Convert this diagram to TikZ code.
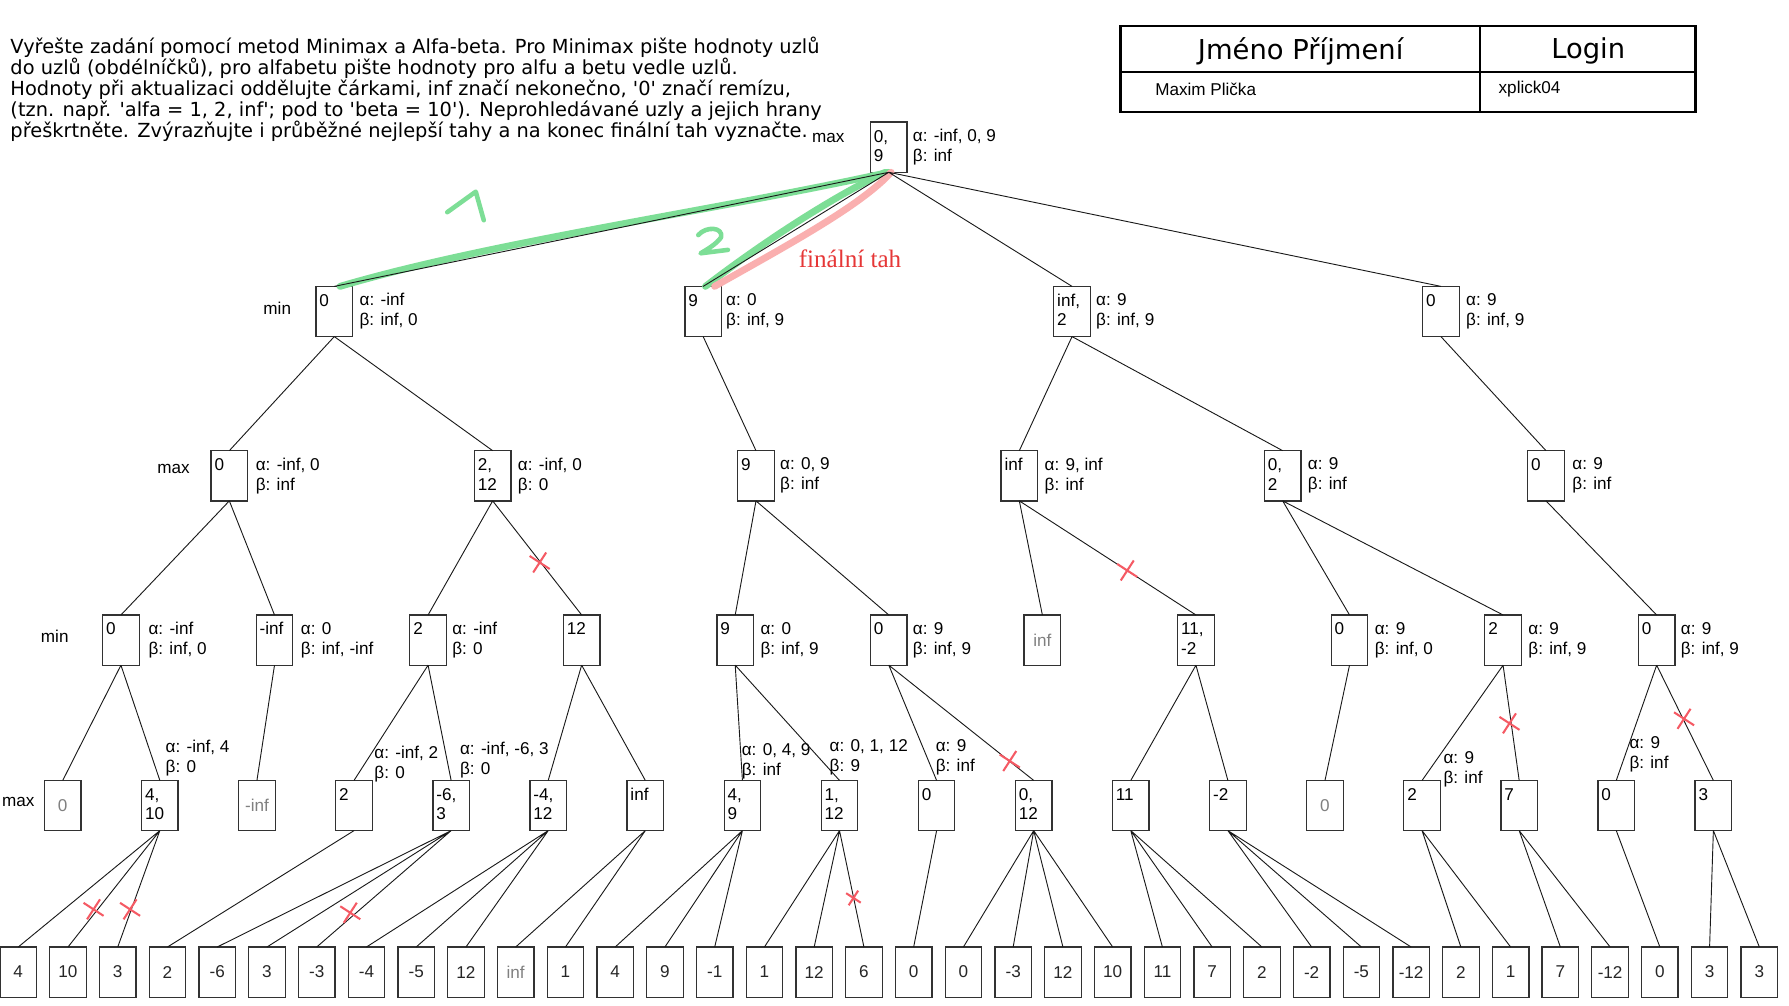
\documentclass[tikz,border=0pt]{standalone}
\usepackage{fontspec}
\setmainfont{Liberation Sans}
\newfontfamily\taskfont{DejaVu Sans}
\newfontfamily\headfont{DejaVu Sans}
\newfontfamily\tahfont{Liberation Serif}
\usetikzlibrary{positioning, shapes.misc}
\definecolor{boxline}{RGB}{50,50,50}
\definecolor{hlgreen}{RGB}{125,222,150}
\definecolor{hlpink}{RGB}{250,175,175}
\definecolor{tahred}{RGB}{230,55,55}
\definecolor{crossred}{RGB}{245,90,100}
\newcommand{\val}[1]{\parbox[c][37pt][t]{26pt}{\rule{0pt}{14pt}#1}}
\tikzset{
    cell/.style={
        rectangle,
        draw=boxline,
        line width=1.1pt,
        minimum width=32pt,
        minimum height=44pt,
        inner sep=3pt,
        outer sep=0pt,
        font=\fontsize{15}{17}\selectfont
    },
    dead/.style={cell, text=black!50},
    leaf/.style={cell, text=black!85},
    note/.style={
        align=left,
        inner sep=0pt,
        font=\fontsize{15}{17.5}\selectfont
    },
    lvl/.style={font=\fontsize{15}{17}\selectfont},
    edge/.style={draw=black!90, line width=0.8pt},
    hl/.style={draw=#1, line width=6pt, line cap=round},
    handmark/.style={draw=hlgreen, line width=4pt, line cap=round, line join=round},
    prune/.style={
        cross out,
        draw=crossred,
        line width=1.8pt,
        minimum size=13pt,
        inner sep=0pt,
        rotate=12
    }
}

\begin{document}
\begin{tikzpicture}[x=1pt, y=-1pt]
    \useasboundingbox (0,0) rectangle (1568,881);
    \fill[white] (0,0) rectangle (1568,881);

    % zadani
    \node[anchor=north west, align=left, inner sep=0pt,
          font=\taskfont\fontsize{17}{18.5}\selectfont] (task) at (9,32)
        {Vyřešte zadání pomocí metod Minimax a Alfa-beta. Pro Minimax pište hodnoty uzlů\\
         do uzlů (obdélníčků), pro alfabetu pište hodnoty pro alfu a betu vedle uzlů.\\
         Hodnoty při aktualizaci oddělujte čárkami, inf značí nekonečno, \textquotesingle 0\textquotesingle{} značí remízu,\\
         (tzn. např. \textquotesingle alfa = 1, 2, inf\textquotesingle; pod to \textquotesingle beta = 10\textquotesingle). Neprohledávané uzly a jejich hrany\\
         přeškrtněte. Zvýrazňujte i průběžné nejlepší tahy a na konec finální tah vyznačte.};

    % hlavicka
    \draw[line width=2.2pt] (982,23) rectangle (1486,98);
    \draw[line width=1.6pt] (982,63) -- (1486,63) (1297,23) -- (1297,98);
    \node[font=\headfont\fontsize{24}{26}\selectfont] (hname) at (1140,45) {Jméno Příjmení};
    \node[font=\headfont\fontsize{24}{26}\selectfont] (hlogin) at (1392,45) {Login};
    \node[lvl, anchor=west] (sname) at (1009,78) {Maxim Plička};
    \node[lvl, anchor=west] (slogin) at (1310,78) {xplick04};

    % urovne
    \node[lvl] (l0) at (726,121) {max};
    \node[lvl] (l1) at (243,270) {min};
    \node[lvl] (l2) at (152,411) {max};
    \node[lvl] (l3) at (48,558)  {min};
    \node[lvl] (l4) at (16,703)  {max};

    % koren
    \node[cell] (r) at (779,129) {\val{0,\\9}};

    % min
    \node[cell]                      (a1) at (293,273) {\val{0}};
    \node[cell, right=291.3pt of a1] (a2) {\val{9}};
    \node[cell, right=291.3pt of a2] (a3) {\val{inf,\\2}};
    \node[cell, right=291.3pt of a3] (a4) {\val{0}};

    % max
    \node[cell]                      (b1) at (201,417) {\val{0}};
    \node[cell, right=198.8pt of b1] (b2) {\val{2,\\12}};
    \node[cell, right=198.8pt of b2] (b3) {\val{9}};
    \node[cell, right=198.8pt of b3] (b4) {\val{inf}};
    \node[cell, right=198.8pt of b4] (b5) {\val{0,\\2}};
    \node[cell, right=198.8pt of b5] (b6) {\val{0}};

    % min
    \node[cell]                       (c1)  at (106,561) {\val{0}};
    \node[cell, right=102.6pt of c1]  (c2)  {\val{-inf}};
    \node[cell, right=102.6pt of c2]  (c3)  {\val{2}};
    \node[cell, right=102.6pt of c3]  (c4)  {\val{12}};
    \node[cell, right=102.6pt of c4]  (c5)  {\val{9}};
    \node[cell, right=102.6pt of c5]  (c6)  {\val{0}};
    \node[dead, right=102.6pt of c6]  (c7)  {inf};
    \node[cell, right=102.6pt of c7]  (c8)  {\val{11,\\-2}};
    \node[cell, right=102.6pt of c8]  (c9)  {\val{0}};
    \node[cell, right=102.6pt of c9]  (c10) {\val{2}};
    \node[cell, right=102.6pt of c10] (c11) {\val{0}};

    % max
    \node[dead]                      (d1)  at (55,706) {0};
    \node[cell, right=53.1pt of d1]  (d2)  {\val{4,\\10}};
    \node[dead, right=53.1pt of d2]  (d3)  {-inf};
    \node[cell, right=53.1pt of d3]  (d4)  {\val{2}};
    \node[cell, right=53.1pt of d4]  (d5)  {\val{-6,\\3}};
    \node[cell, right=53.1pt of d5]  (d6)  {\val{-4,\\12}};
    \node[cell, right=53.1pt of d6]  (d7)  {\val{inf}};
    \node[cell, right=53.1pt of d7]  (d8)  {\val{4,\\9}};
    \node[cell, right=53.1pt of d8]  (d9)  {\val{1,\\12}};
    \node[cell, right=53.1pt of d9]  (d10) {\val{0}};
    \node[cell, right=53.1pt of d10] (d11) {\val{0,\\12}};
    \node[cell, right=53.1pt of d11] (d12) {\val{11}};
    \node[cell, right=53.1pt of d12] (d13) {\val{-2}};
    \node[dead, right=53.1pt of d13] (d14) {0};
    \node[cell, right=53.1pt of d14] (d15) {\val{2}};
    \node[cell, right=53.1pt of d15] (d16) {\val{7}};
    \node[cell, right=53.1pt of d16] (d17) {\val{0}};
    \node[cell, right=53.1pt of d17] (d18) {\val{3}};

    % listy
    \node[leaf]                      (e1)  at (16,852) {4};
    \node[leaf, right=11.6pt of e1]  (e2)  {10};
    \node[leaf, right=11.6pt of e2]  (e3)  {3};
    \node[leaf, right=11.6pt of e3]  (e4)  {2};
    \node[leaf, right=11.6pt of e4]  (e5)  {-6};
    \node[leaf, right=11.6pt of e5]  (e6)  {3};
    \node[leaf, right=11.6pt of e6]  (e7)  {-3};
    \node[leaf, right=11.6pt of e7]  (e8)  {-4};
    \node[leaf, right=11.6pt of e8]  (e9)  {-5};
    \node[leaf, right=11.6pt of e9]  (e10) {12};
    \node[dead, right=11.6pt of e10] (e11) {inf};
    \node[leaf, right=11.6pt of e11] (e12) {1};
    \node[leaf, right=11.6pt of e12] (e13) {4};
    \node[leaf, right=11.6pt of e13] (e14) {9};
    \node[leaf, right=11.6pt of e14] (e15) {-1};
    \node[leaf, right=11.6pt of e15] (e16) {1};
    \node[leaf, right=11.6pt of e16] (e17) {12};
    \node[leaf, right=11.6pt of e17] (e18) {6};
    \node[leaf, right=11.6pt of e18] (e19) {0};
    \node[leaf, right=11.6pt of e19] (e20) {0};
    \node[leaf, right=11.6pt of e20] (e21) {-3};
    \node[leaf, right=11.6pt of e21] (e22) {12};
    \node[leaf, right=11.6pt of e22] (e23) {10};
    \node[leaf, right=11.6pt of e23] (e24) {11};
    \node[leaf, right=11.6pt of e24] (e25) {7};
    \node[leaf, right=11.6pt of e25] (e26) {2};
    \node[leaf, right=11.6pt of e26] (e27) {-2};
    \node[leaf, right=11.6pt of e27] (e28) {-5};
    \node[leaf, right=11.6pt of e28] (e29) {-12};
    \node[leaf, right=11.6pt of e29] (e30) {2};
    \node[leaf, right=11.6pt of e30] (e31) {1};
    \node[leaf, right=11.6pt of e31] (e32) {7};
    \node[leaf, right=11.6pt of e32] (e33) {-12};
    \node[leaf, right=11.6pt of e33] (e34) {0};
    \node[leaf, right=11.6pt of e34] (e35) {3};
    \node[leaf, right=11.6pt of e35] (e36) {3};

    % alfa a beta
    \node[note, right=5pt of r]   (r-ab)   {α: -inf, 0, 9\\β: inf};
    \node[note, right=6pt of a1]  (a1-ab)  {α: -inf\\β: inf, 0};
    \node[note, right=4pt of a2]  (a2-ab)  {α: 0\\β: inf, 9};
    \node[note, right=5pt of a3]  (a3-ab)  {α: 9\\β: inf, 9};
    \node[note, right=6pt of a4]  (a4-ab)  {α: 9\\β: inf, 9};
    \node[note, right=7pt of b1]  (b1-ab)  {α: -inf, 0\\β: inf};
    \node[note, right=6pt of b2]  (b2-ab)  {α: -inf, 0\\β: 0};
    \node[note, right=5pt of b3]  (b3-ab)  {α: 0, 9\\β: inf};
    \node[note, right=6pt of b4]  (b4-ab)  {α: 9, inf\\β: inf};
    \node[note, right=6pt of b5]  (b5-ab)  {α: 9\\β: inf};
    \node[note, right=7pt of b6]  (b6-ab)  {α: 9\\β: inf};
    \node[note, right=8pt of c1]  (c1-ab)  {α: -inf\\β: inf, 0};
    \node[note, right=7pt of c2]  (c2-ab)  {α: 0\\β: inf, -inf};
    \node[note, right=5pt of c3]  (c3-ab)  {α: -inf\\β: 0};
    \node[note, right=6pt of c5]  (c5-ab)  {α: 0\\β: inf, 9};
    \node[note, right=5pt of c6]  (c6-ab)  {α: 9\\β: inf, 9};
    \node[note, right=6pt of c9]  (c9-ab)  {α: 9\\β: inf, 0};
    \node[note, right=6pt of c10] (c10-ab) {α: 9\\β: inf, 9};
    \node[note, right=5pt of c11] (c11-ab) {α: 9\\β: inf, 9};
    \node[note, anchor=west] (d2-ab)  at (145,664)  {α: -inf, 4\\β: 0};
    \node[note, anchor=west] (d4-ab)  at (328,670)  {α: -inf, 2\\β: 0};
    \node[note, anchor=west] (d5-ab)  at (403,666)  {α: -inf, -6, 3\\β: 0};
    \node[note, anchor=west] (d8-ab)  at (650,667)  {α: 0, 4, 9\\β: inf};
    \node[note, anchor=west] (d9-ab)  at (727,664)  {α: 0, 1, 12\\β: 9};
    \node[note, anchor=west] (d10-ab) at (820,664)  {α: 9\\β: inf};
    \node[note, anchor=west] (d15-ab) at (1265,674) {α: 9\\β: inf};
    \node[note, anchor=west] (d17-ab) at (1428,661) {α: 9\\β: inf};

    % zvyrazneni tahu
    \draw[hl=hlgreen] ([xshift=5pt]a1.north) .. controls (430,212) and (630,184) .. (r.south);
    \draw[hl=hlgreen] ([xshift=2pt]a2.north) .. controls (665,215) and (730,172) .. ([xshift=-3pt]r.south);
    \draw[hl=hlpink]  ([xshift=10pt]a2.north) .. controls (690,215) and (755,180) .. ([xshift=2pt]r.south);
    \draw[handmark] (392,186) -- (417,168) -- (424,193);
    \draw[handmark] (612,206) .. controls (619,198) and (634,199) .. (632,208)
                    .. controls (628,214) and (619,219) .. (614,222) -- (638,219);
    \node[font=\tahfont\fontsize{22}{24}\selectfont, text=tahred] (tah) at (745,227) {finální tah};

    % hrany
    \draw[edge] (r.south) -- (a1.north) (r.south) -- (a2.north) (r.south) -- (a3.north) (r.south) -- (a4.north);
    \draw[edge] (a1.south) -- (b1.north) (a1.south) -- (b2.north);
    \draw[edge] (a2.south) -- (b3.north);
    \draw[edge] (a3.south) -- (b4.north) (a3.south) -- (b5.north);
    \draw[edge] (a4.south) -- (b6.north);
    \draw[edge] (b1.south) -- (c1.north) (b1.south) -- (c2.north);
    \draw[edge] (b2.south) -- (c3.north) (b2.south) -- (c4.north);
    \draw[edge] (b3.south) -- (c5.north) (b3.south) -- (c6.north);
    \draw[edge] (b4.south) -- (c7.north) (b4.south) -- (c8.north);
    \draw[edge] (b5.south) -- (c9.north) (b5.south) -- (c10.north);
    \draw[edge] (b6.south) -- (c11.north);
    \draw[edge] (c1.south) -- (d1.north) (c1.south) -- (d2.north);
    \draw[edge] (c2.south) -- (d3.north);
    \draw[edge] (c3.south) -- (d4.north) (c3.south) -- (d5.north);
    \draw[edge] (c4.south) -- (d6.north) (c4.south) -- (d7.north);
    \draw[edge] (c5.south) -- (d8.north) (c5.south) -- (d9.north);
    \draw[edge] (c6.south) -- (d10.north) (c6.south) -- (d11.north);
    \draw[edge] (c8.south) -- (d12.north) (c8.south) -- (d13.north);
    \draw[edge] (c9.south) -- (d14.north);
    \draw[edge] (c10.south) -- (d15.north) (c10.south) -- (d16.north);
    \draw[edge] (c11.south) -- (d17.north) (c11.south) -- (d18.north);
    \draw[edge] (d2.south) -- (e1.north) (d2.south) -- (e2.north) (d2.south) -- (e3.north);
    \draw[edge] (d4.south) -- (e4.north);
    \draw[edge] (d5.south) -- (e5.north) (d5.south) -- (e6.north) (d5.south) -- (e7.north);
    \draw[edge] (d6.south) -- (e8.north) (d6.south) -- (e9.north) (d6.south) -- (e10.north);
    \draw[edge] (d7.south) -- (e11.north) (d7.south) -- (e12.north);
    \draw[edge] (d8.south) -- (e13.north) (d8.south) -- (e14.north) (d8.south) -- (e15.north);
    \draw[edge] (d9.south) -- (e16.north) (d9.south) -- (e17.north) (d9.south) -- (e18.north);
    \draw[edge] (d10.south) -- (e19.north);
    \draw[edge] (d11.south) -- (e20.north) (d11.south) -- (e21.north) (d11.south) -- (e22.north) (d11.south) -- (e23.north);
    \draw[edge] (d12.south) -- (e24.north) (d12.south) -- (e25.north) (d12.south) -- (e26.north);
    \draw[edge] (d13.south) -- (e27.north) (d13.south) -- (e28.north) (d13.south) -- (e29.north);
    \draw[edge] (d15.south) -- (e30.north) (d15.south) -- (e31.north);
    \draw[edge] (d16.south) -- (e32.north) (d16.south) -- (e33.north);
    \draw[edge] (d17.south) -- (e34.north);
    \draw[edge] (d18.south) -- (e35.north) (d18.south) -- (e36.north);

    % preskrtnute hrany
    \node[prune] (x1) at (473,493) {};
    \node[prune] (x2) at (988,500) {};
    \node[prune] (x3) at (885,667) {};
    \node[prune] (x4) at (1323,634) {};
    \node[prune] (x5) at (1476,630) {};
    \node[prune] (x6) at (82,797) {};
    \node[prune] (x7) at (114,797) {};
    \node[prune] (x8) at (307,800) {};
    \node[prune, minimum size=9pt] (x9) at (748,787) {};
\end{tikzpicture}
\end{document}
